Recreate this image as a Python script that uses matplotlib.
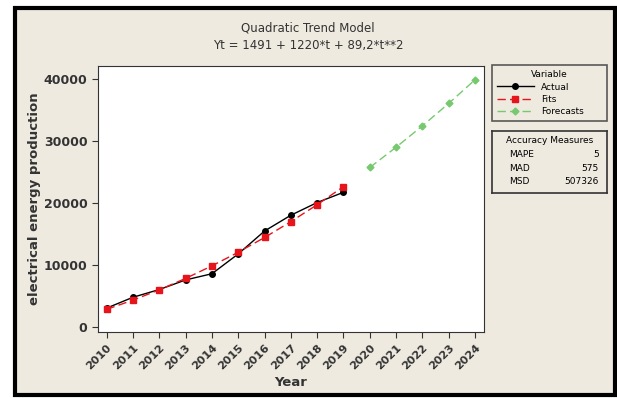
"""Quadratic trend model chart (Minitab style) -> out.png"""
import matplotlib
matplotlib.use("Agg")
import matplotlib.pyplot as plt
from matplotlib.patches import Rectangle

BG = "#eeeae0"; DARK = "#333333"; GREEN = "#77c96f"

years = [2010, 2011, 2012, 2013, 2014, 2015, 2016, 2017, 2018, 2019]
actual = [3000, 4750, 6000, 7550, 8550, 11750, 15450, 18000, 20050, 21700]
fits = [2800, 4288, 5954, 7798, 9821, 12023, 14404, 16963, 19700, 22616]
fc_years = [2020, 2021, 2022, 2023, 2024]
forecasts = [25710, 28983, 32435, 36065, 39874]
measures = ["MAPE", "MAD", "MSD"]
measure_vals = ["5", "575", "507326"]

fig = plt.figure(figsize=(6.17, 3.98), dpi=100)
fig.patch.set_facecolor("white")
# beige panel with black frame
fig.patches.append(Rectangle((15 / 617, 3 / 398), 600 / 617, 387 / 398, transform=fig.transFigure,
                             fc=BG, ec="black", lw=3, zorder=-1))

ax = fig.add_axes([98 / 617, 66 / 398, 386 / 617, 266 / 398])
ax.set_facecolor("white")
ax.plot(years, actual, color="black", lw=1, marker="o", ms=4, label="Actual")
ax.plot(years, fits, color="#e8141b", lw=1, ls=(0, (6, 3)), marker="s", ms=4, label="Fits")
ax.plot(fc_years, forecasts, color=GREEN, lw=1, ls=(0, (6, 3)), marker="D", ms=3.5, label="Forecasts")

ax.set_xlim(2009.67, 2024.34)
ax.set_ylim(-860, 42100)
ax.set_xticks(years + fc_years)
ax.set_xticklabels([str(y) for y in years + fc_years], rotation=45, ha="right",
                   rotation_mode="anchor", fontsize=8, fontweight="bold", color=DARK)
ax.set_yticks([0, 10000, 20000, 30000, 40000])
ax.tick_params(axis="y", labelsize=9, labelcolor=DARK)
ax.tick_params(length=4, color=DARK)
for t in ax.get_yticklabels():
    t.set_fontweight("bold")
for s in ax.spines.values():
    s.set_color(DARK)
ax.set_xlabel("Year", fontsize=9.5, fontweight="bold", color=DARK, labelpad=3)
ax.set_ylabel("electrical energy production", fontsize=9.5, fontweight="bold", color=DARK, labelpad=2)

fig.text(308 / 617, 1 - 28 / 398, "Quadratic Trend Model", ha="center", va="center", fontsize=8.5, color=DARK)
fig.text(308 / 617, 1 - 45 / 398, "Yt = 1491 + 1220*t + 89,2*t**2", ha="center", va="center",
         fontsize=8.5, color=DARK)

leg = fig.legend(loc="upper left", bbox_to_anchor=(492 / 617, 1 - 129 / 398, 115 / 617, 64 / 398),
                 mode="expand", title="Variable",
                 fontsize=6.5, title_fontsize=6.5, frameon=True, fancybox=False,
                 borderaxespad=0, handlelength=4, labelspacing=0.35, borderpad=0.6)
leg.get_frame().set_edgecolor(DARK)
leg.get_frame().set_facecolor(BG)
leg.get_frame().set_linewidth(1.2)

# accuracy measures box
bx = fig.add_axes([492 / 617, 1 - 193 / 398, 115 / 617, 62 / 398])
bx.set_facecolor(BG)
bx.set_xticks([]); bx.set_yticks([])
for s in bx.spines.values():
    s.set_color(DARK); s.set_linewidth(1.2)
bx.text(0.5, 0.85, "Accuracy Measures", ha="center", va="center", fontsize=6.5, transform=bx.transAxes)
for i, (m, v) in enumerate(zip(measures, measure_vals)):
    yy = 0.62 - i * 0.22
    bx.text(0.15, yy, m, ha="left", va="center", fontsize=6.5, transform=bx.transAxes)
    bx.text(0.93, yy, v, ha="right", va="center", fontsize=6.5, transform=bx.transAxes)

fig.savefig("out.png", dpi=100, facecolor="white")
